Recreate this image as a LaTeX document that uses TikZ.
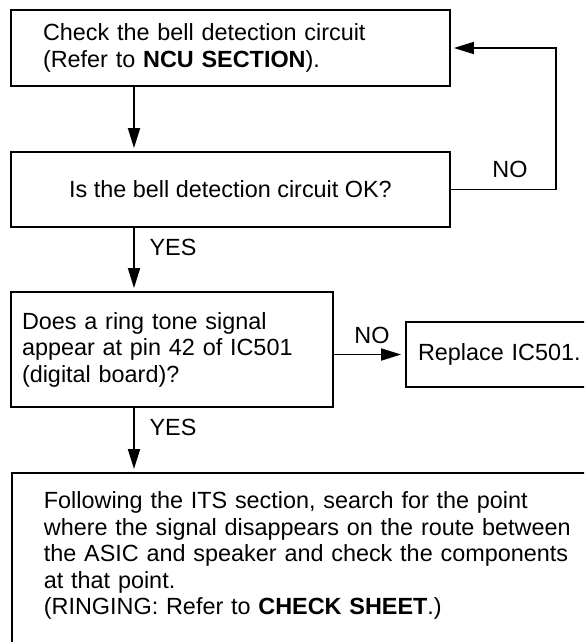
\documentclass[tikz,border=0pt]{standalone}
\usepackage{fontspec}
\setmainfont{Liberation Sans}
\usepackage{tikz}
\usetikzlibrary{calc, positioning, arrows.meta}

\begin{document}
\begin{tikzpicture}[
  x=1pt, y=1pt,
  every node/.style={font=\fontsize{23.4}{26.5}\selectfont},
  box/.style={draw, line width=1.8pt, rectangle, inner ysep=0pt},
  tag/.style={inner sep=0pt},
  >={Triangle[length=20pt, width=12pt]}
]
  \clip (0,0) rectangle (584,-642);

  \coordinate (spine) at (134,0);
  \coordinate (loop)  at (556,0);

  \node[box, minimum width=439, minimum height=76, inner xsep=32, text width=375, align=left]
    (check) at (230.5,-48) {Check the bell detection circuit\\(Refer to \textbf{NCU SECTION}).};
  \node[box, minimum width=439, minimum height=75, align=center]
    (test) at (230.5,-189.5) {Is the bell detection circuit OK?};
  \node[box, minimum width=322, minimum height=115, inner xsep=11, text width=300, align=left]
    (pin) at (172,-349.5) {Does a ring tone signal\\appear at pin 42 of IC501\\(digital board)?};
  \node[box, minimum width=220, minimum height=65, inner xsep=12, text width=196, align=left]
    (replace) at (516,-354.5) {Replace IC501.};
  \node[box, anchor=north west, inner xsep=32, inner ysep=19, text width=560, text depth=200, align=left]
    (route) at (11,-472) {Following the ITS section, search for the point\\
      where the signal disappears on the route between\\
      the ASIC and speaker and check the components\\
      at that point.\\
      (RINGING: Refer to \textbf{CHECK SHEET}.)};

  % connectors
  \draw[->, line width=1.8pt, shorten >=3pt] (check.south -| spine) -- (test.north -| spine);
  \draw[->, line width=1.8pt, shorten >=3pt] (test.east) -- (test.east -| loop) |- (check.east);
  \draw[->, line width=1.8pt, shorten >=3pt] (test.south -| spine) -- (pin.north -| spine);
  \draw[->, line width=1.8pt, shorten >=4pt] (pin.east |- replace.west) -- (replace.west);
  \draw[->, line width=1.8pt, shorten >=3pt] (pin.south -| spine) -- (route.north -| spine);

  % answers
  \node[tag] (yes1) at (173,-247) {YES};
  \node[tag] (no1)  at (510,-169) {NO};
  \node[tag] (no2)  at (372,-335) {NO};
  \node[tag] (yes2) at (173,-427) {YES};
\end{tikzpicture}
\end{document}
